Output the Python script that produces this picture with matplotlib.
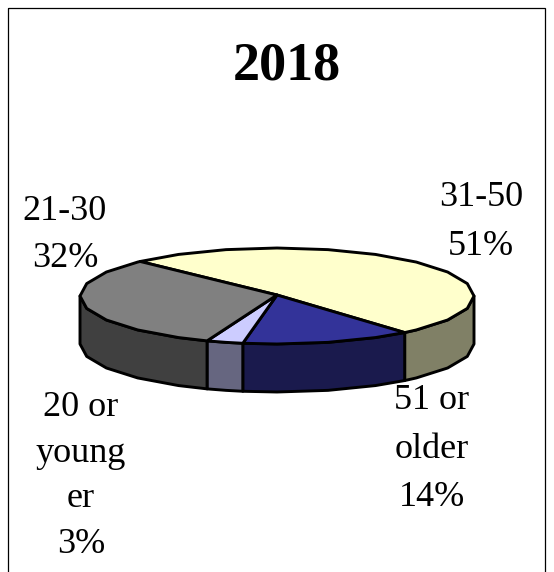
import numpy as np
import matplotlib
matplotlib.use("Agg")
import matplotlib.pyplot as plt
from matplotlib.patches import Polygon, Rectangle

title = "2018"
categories = ["31-50", "51 or older", "20 or young er", "21-30"]
values = [51, 14, 3, 32]
top_colors = ["#FFFFCC", "#333399", "#CCCCFF", "#808080"]
side_colors = ["#808066", "#1A1A4D", "#666680", "#404040"]
label_texts = ["31-50\n51%", "51 or\nolder\n14%", "20 or\nyoung\ner\n3%", "21-30\n32%"]
label_pos = [(481, 222), (432, 449), (81, 476), (65, 235)]
label_spacing = [1.61, 1.61, 1.5, 1.55]

W, H = 554, 572
fig = plt.figure(figsize=(W / 100, H / 100), dpi=100)
ax = fig.add_axes([0, 0, 1, 1])
ax.set_xlim(0, W)
ax.set_ylim(H, 0)
ax.axis("off")

ax.add_patch(Rectangle((8, 8), 537, 580, fill=False, ec="black", lw=0.9))

cx, cy, rx, ry, depth = 277, 296, 197, 48, 48
start = 134
facet = 15.0
edges = start - np.cumsum([0] + values) * 3.6


def arc_angles(hi, lo):
    inner = np.arange(np.ceil(lo / facet), np.floor(hi / facet) + 1) * facet
    inner = inner[(inner > lo + 0.5) & (inner < hi - 0.5)]
    return np.concatenate([[hi], inner[::-1], [lo]])


def pt(a):
    a = np.radians(a)
    return np.column_stack([cx + rx * np.cos(a), cy - ry * np.sin(a)])


# side walls: the visible part is the front half of the ellipse
for i, col in enumerate(side_colors):
    hi = min(edges[i], 0)
    lo = max(edges[i + 1], -180)
    if hi <= lo:
        continue
    arc = pt(arc_angles(hi, lo))
    poly = np.vstack([arc, (arc + [0, depth])[::-1]])
    ax.add_patch(Polygon(poly, closed=True, fc=col, ec="black", lw=2.1, joinstyle="round", zorder=2))

# top faces
for i, col in enumerate(top_colors):
    arc = pt(arc_angles(edges[i], edges[i + 1]))
    poly = np.vstack([[cx, cy - 1], arc])
    ax.add_patch(Polygon(poly, closed=True, fc=col, ec="black", lw=2.1, joinstyle="round", zorder=3))

ax.text(287, 67, title, ha="center", va="center", fontsize=39, fontweight="bold",
        family="Liberation Serif", color="black")
for (x, y), t, s in zip(label_pos, label_texts, label_spacing):
    ax.text(x, y, t, ha="center", va="center", fontsize=26, family="Liberation Serif",
            linespacing=s, color="black")

fig.savefig("out.png", dpi=100, facecolor="white")
